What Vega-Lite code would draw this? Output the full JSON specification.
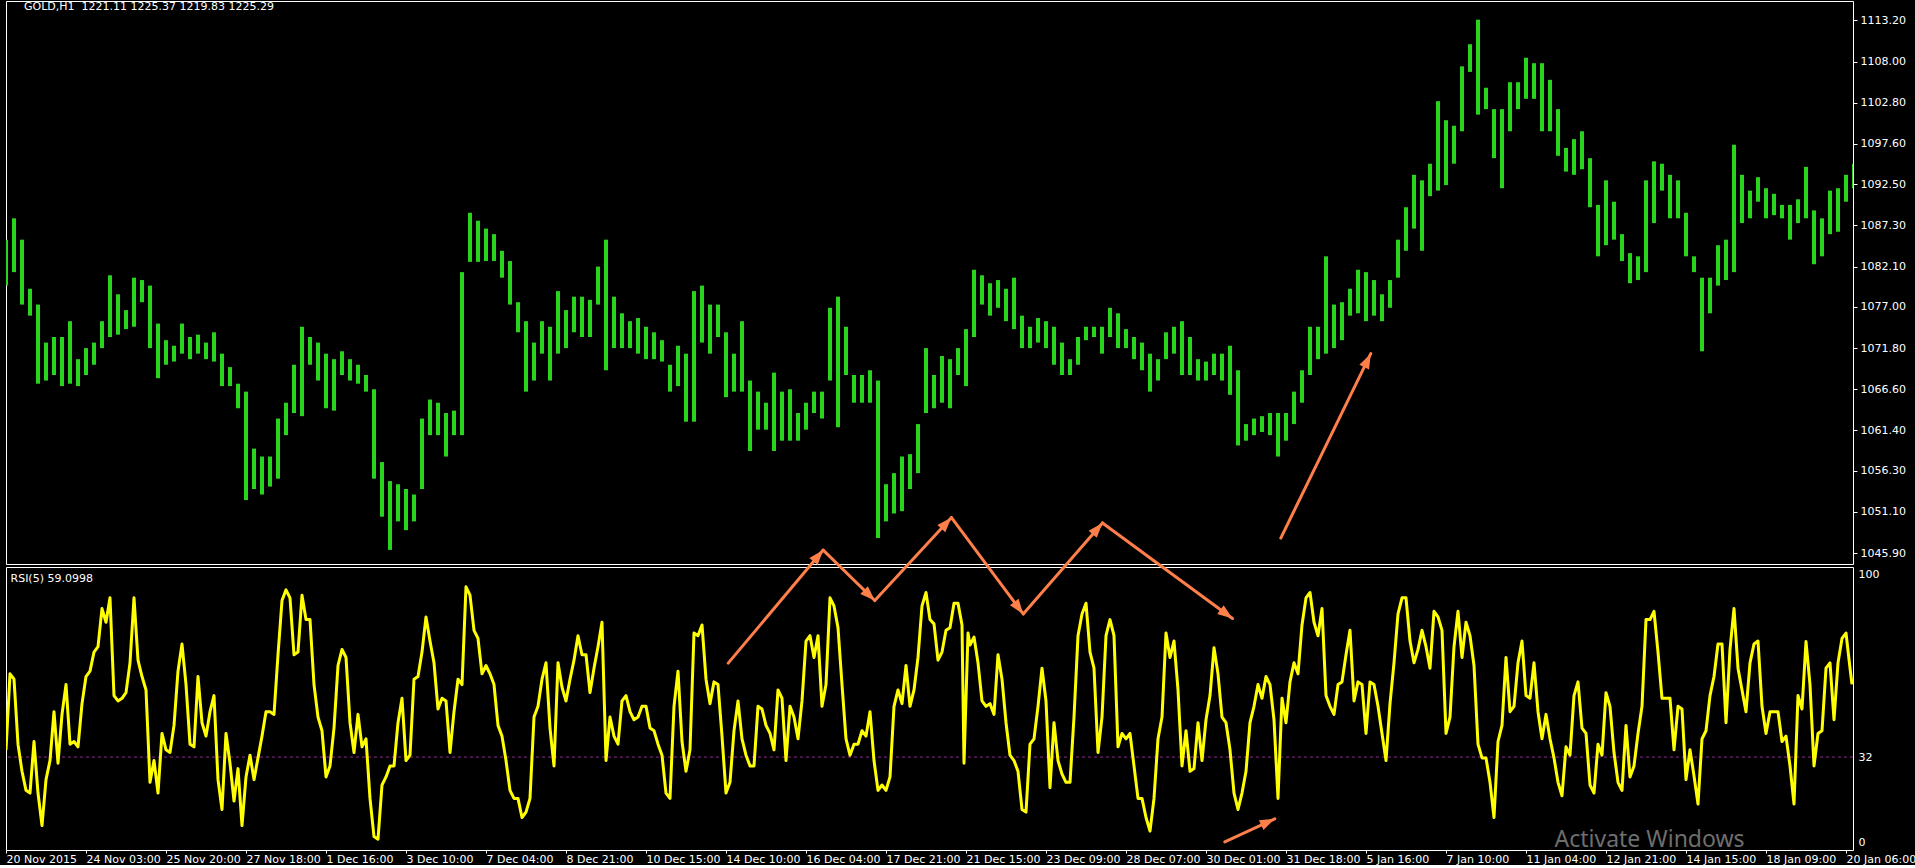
{
  "$schema": "https://vega.github.io/schema/vega-lite/v6.json",
  "background": "#000000",
  "padding": {"left": 5, "top": 0, "right": 0, "bottom": 0},
  "spacing": 3,
  "bounds": "flush",
  "config": {
    "font": "DejaVu Sans",
    "view": {"stroke": "#ffffff", "strokeWidth": 1},
    "axis": {"grid": false, "domain": false, "labelFont": "DejaVu Sans", "labelFontSize": 11, "labelColor": "#ffffff", "tickColor": "#ffffff", "labelOverlap": false, "labelFlush": false}
  },
  "datasets": {
    "price": [
      {"bar":0,"high":1085.5,"low":1079.7},{"bar":4,"high":1088.2,"low":1081.4},{"bar":8,"high":1085.5,"low":1077.3},{"bar":12,"high":1079.3,"low":1075.9},{"bar":16,"high":1077.3,"low":1067.3},{"bar":20,"high":1072.5,"low":1067.7},{"bar":24,"high":1073.2,"low":1068.4},{"bar":28,"high":1073.2,"low":1067.0},{"bar":32,"high":1075.2,"low":1067.3},{"bar":36,"high":1070.4,"low":1067.0},
      {"bar":40,"high":1071.8,"low":1068.4},{"bar":44,"high":1072.5,"low":1069.7},{"bar":48,"high":1075.2,"low":1071.8},{"bar":52,"high":1081.0,"low":1073.2},{"bar":56,"high":1078.6,"low":1073.5},{"bar":60,"high":1076.6,"low":1074.2},{"bar":64,"high":1080.7,"low":1074.5},{"bar":68,"high":1080.4,"low":1077.6},{"bar":72,"high":1079.7,"low":1071.8},{"bar":76,"high":1074.9,"low":1068.0},
      {"bar":80,"high":1072.8,"low":1069.7},{"bar":84,"high":1072.1,"low":1070.1},{"bar":88,"high":1074.9,"low":1071.1},{"bar":92,"high":1073.2,"low":1070.4},{"bar":96,"high":1073.5,"low":1071.1},{"bar":100,"high":1072.5,"low":1070.4},{"bar":104,"high":1073.8,"low":1070.1},{"bar":108,"high":1071.1,"low":1067.0},{"bar":112,"high":1069.4,"low":1067.0},{"bar":116,"high":1067.3,"low":1064.2},
      {"bar":120,"high":1066.3,"low":1052.6},{"bar":124,"high":1059.1,"low":1054.0},{"bar":128,"high":1058.1,"low":1053.3},{"bar":132,"high":1058.1,"low":1054.3},{"bar":136,"high":1062.9,"low":1055.3},{"bar":140,"high":1064.9,"low":1060.8},{"bar":144,"high":1069.7,"low":1063.6},{"bar":148,"high":1074.5,"low":1063.2},{"bar":152,"high":1073.2,"low":1069.7},{"bar":156,"high":1072.5,"low":1067.7},
      {"bar":160,"high":1071.1,"low":1064.2},{"bar":164,"high":1070.4,"low":1063.9},{"bar":168,"high":1071.4,"low":1068.4},{"bar":172,"high":1070.4,"low":1067.7},{"bar":176,"high":1069.7,"low":1067.3},{"bar":180,"high":1068.4,"low":1066.3},{"bar":184,"high":1066.6,"low":1055.3},{"bar":188,"high":1057.4,"low":1050.5},{"bar":192,"high":1055.0,"low":1046.3},{"bar":196,"high":1054.6,"low":1049.9},
      {"bar":200,"high":1054.0,"low":1048.8},{"bar":204,"high":1053.3,"low":1049.9},{"bar":208,"high":1062.9,"low":1054.0},{"bar":212,"high":1065.3,"low":1060.8},{"bar":216,"high":1064.9,"low":1060.8},{"bar":220,"high":1063.6,"low":1058.1},{"bar":224,"high":1063.9,"low":1060.8},{"bar":228,"high":1081.4,"low":1060.8},{"bar":232,"high":1088.9,"low":1082.7},{"bar":236,"high":1087.9,"low":1082.7},
      {"bar":240,"high":1086.9,"low":1082.8},{"bar":244,"high":1086.2,"low":1082.8},{"bar":248,"high":1084.1,"low":1080.7},{"bar":252,"high":1082.8,"low":1077.3},{"bar":256,"high":1077.6,"low":1073.8},{"bar":260,"high":1075.2,"low":1066.3},{"bar":264,"high":1072.5,"low":1067.7},{"bar":268,"high":1075.2,"low":1071.1},{"bar":272,"high":1074.5,"low":1067.7},{"bar":276,"high":1079.0,"low":1071.1},
      {"bar":280,"high":1076.6,"low":1071.8},{"bar":284,"high":1078.3,"low":1073.8},{"bar":288,"high":1078.3,"low":1073.2},{"bar":292,"high":1077.9,"low":1073.2},{"bar":296,"high":1082.1,"low":1077.3},{"bar":300,"high":1085.5,"low":1069.0},{"bar":304,"high":1078.3,"low":1071.8},{"bar":308,"high":1076.2,"low":1071.8},{"bar":312,"high":1075.2,"low":1071.8},{"bar":316,"high":1075.6,"low":1071.1},
      {"bar":320,"high":1074.5,"low":1070.4},{"bar":324,"high":1073.8,"low":1070.4},{"bar":328,"high":1072.8,"low":1070.1},{"bar":332,"high":1069.7,"low":1066.3},{"bar":336,"high":1072.1,"low":1067.0},{"bar":340,"high":1071.1,"low":1062.5},{"bar":344,"high":1079.0,"low":1062.5},{"bar":348,"high":1079.7,"low":1072.5},{"bar":352,"high":1077.3,"low":1071.1},{"bar":356,"high":1077.3,"low":1073.2},
      {"bar":360,"high":1073.8,"low":1065.6},{"bar":364,"high":1071.1,"low":1066.3},{"bar":368,"high":1075.2,"low":1066.3},{"bar":372,"high":1067.7,"low":1058.8},{"bar":376,"high":1066.3,"low":1061.5},{"bar":380,"high":1064.9,"low":1061.5},{"bar":384,"high":1068.7,"low":1058.8},{"bar":388,"high":1066.3,"low":1060.1},{"bar":392,"high":1066.6,"low":1060.1},{"bar":396,"high":1063.6,"low":1060.1},
      {"bar":400,"high":1064.9,"low":1061.5},{"bar":404,"high":1066.3,"low":1063.6},{"bar":408,"high":1066.3,"low":1062.9},{"bar":412,"high":1076.9,"low":1067.7},{"bar":416,"high":1078.3,"low":1061.8},{"bar":420,"high":1074.5,"low":1068.4},{"bar":424,"high":1068.4,"low":1064.9},{"bar":428,"high":1068.4,"low":1064.9},{"bar":432,"high":1069.0,"low":1064.9},{"bar":436,"high":1067.7,"low":1047.8},
      {"bar":440,"high":1054.6,"low":1049.9},{"bar":444,"high":1056.0,"low":1050.9},{"bar":448,"high":1058.1,"low":1051.2},{"bar":452,"high":1058.4,"low":1054.0},{"bar":456,"high":1062.2,"low":1056.0},{"bar":460,"high":1071.8,"low":1063.6},{"bar":464,"high":1068.4,"low":1064.2},{"bar":468,"high":1070.8,"low":1064.9},{"bar":472,"high":1070.4,"low":1064.2},{"bar":476,"high":1071.8,"low":1068.4},
      {"bar":480,"high":1074.2,"low":1067.0},{"bar":484,"high":1081.7,"low":1073.2},{"bar":488,"high":1081.0,"low":1077.3},{"bar":492,"high":1080.0,"low":1075.9},{"bar":496,"high":1080.4,"low":1076.9},{"bar":500,"high":1079.3,"low":1075.2},{"bar":504,"high":1080.7,"low":1074.2},{"bar":508,"high":1075.9,"low":1071.8},{"bar":512,"high":1074.5,"low":1071.8},{"bar":516,"high":1075.6,"low":1072.5},
      {"bar":520,"high":1075.2,"low":1071.8},{"bar":524,"high":1074.5,"low":1069.7},{"bar":528,"high":1072.5,"low":1068.4},{"bar":532,"high":1070.4,"low":1068.4},{"bar":536,"high":1073.2,"low":1069.7},{"bar":540,"high":1074.5,"low":1072.8},{"bar":544,"high":1074.5,"low":1073.2},{"bar":548,"high":1074.5,"low":1071.1},{"bar":552,"high":1076.9,"low":1073.2},{"bar":556,"high":1076.2,"low":1071.8},
      {"bar":560,"high":1074.2,"low":1071.8},{"bar":564,"high":1073.2,"low":1070.4},{"bar":568,"high":1072.5,"low":1069.0},{"bar":572,"high":1071.1,"low":1066.3},{"bar":576,"high":1070.4,"low":1067.7},{"bar":580,"high":1073.8,"low":1070.4},{"bar":584,"high":1074.5,"low":1071.1},{"bar":588,"high":1075.2,"low":1068.4},{"bar":592,"high":1073.2,"low":1068.4},{"bar":596,"high":1070.4,"low":1067.7},
      {"bar":600,"high":1070.1,"low":1067.7},{"bar":604,"high":1071.1,"low":1068.4},{"bar":608,"high":1071.1,"low":1067.7},{"bar":612,"high":1072.1,"low":1065.9},{"bar":616,"high":1069.0,"low":1059.5},{"bar":620,"high":1062.2,"low":1060.1},{"bar":624,"high":1062.9,"low":1060.8},{"bar":628,"high":1063.2,"low":1061.2},{"bar":632,"high":1063.6,"low":1060.8},{"bar":636,"high":1063.6,"low":1058.1},
      {"bar":640,"high":1063.6,"low":1060.1},{"bar":644,"high":1066.3,"low":1062.2},{"bar":648,"high":1069.0,"low":1064.9},{"bar":652,"high":1074.5,"low":1068.4},{"bar":656,"high":1074.5,"low":1070.4},{"bar":660,"high":1083.4,"low":1071.1},{"bar":664,"high":1077.3,"low":1071.8},{"bar":668,"high":1077.6,"low":1072.8},{"bar":672,"high":1079.3,"low":1075.9},{"bar":676,"high":1081.7,"low":1076.2},
      {"bar":680,"high":1081.4,"low":1075.2},{"bar":684,"high":1080.4,"low":1075.9},{"bar":688,"high":1078.6,"low":1075.2},{"bar":692,"high":1080.4,"low":1076.9},{"bar":696,"high":1085.5,"low":1080.7},{"bar":700,"high":1089.6,"low":1084.1},{"bar":704,"high":1093.7,"low":1086.9},{"bar":708,"high":1093.0,"low":1084.1},{"bar":712,"high":1095.1,"low":1091.0},{"bar":716,"high":1103.0,"low":1091.7},
      {"bar":720,"high":1100.6,"low":1092.4},{"bar":724,"high":1099.9,"low":1095.1},{"bar":728,"high":1107.4,"low":1099.2},{"bar":732,"high":1110.2,"low":1106.7},{"bar":736,"high":1113.3,"low":1101.3},{"bar":740,"high":1104.7,"low":1102.0},{"bar":744,"high":1102.0,"low":1095.8},{"bar":748,"high":1102.0,"low":1092.0},{"bar":752,"high":1105.4,"low":1099.2},{"bar":756,"high":1105.4,"low":1102.0},
      {"bar":760,"high":1108.5,"low":1103.3},{"bar":764,"high":1107.8,"low":1103.3},{"bar":768,"high":1107.8,"low":1099.2},{"bar":772,"high":1105.7,"low":1099.2},{"bar":776,"high":1102.0,"low":1096.1},{"bar":780,"high":1097.1,"low":1094.1},{"bar":784,"high":1098.2,"low":1093.7},{"bar":788,"high":1099.2,"low":1094.4},{"bar":792,"high":1095.8,"low":1089.6},{"bar":796,"high":1089.9,"low":1083.4},
      {"bar":800,"high":1093.0,"low":1084.8},{"bar":804,"high":1090.3,"low":1085.5},{"bar":808,"high":1086.2,"low":1082.8},{"bar":812,"high":1083.8,"low":1080.0},{"bar":816,"high":1083.4,"low":1080.4},{"bar":820,"high":1093.0,"low":1081.4},{"bar":824,"high":1095.4,"low":1087.6},{"bar":828,"high":1095.1,"low":1091.7},{"bar":832,"high":1093.7,"low":1088.2},{"bar":836,"high":1093.0,"low":1088.2},
      {"bar":840,"high":1088.9,"low":1083.4},{"bar":844,"high":1083.4,"low":1081.4},{"bar":848,"high":1080.7,"low":1071.4},{"bar":852,"high":1080.7,"low":1076.2},{"bar":856,"high":1084.8,"low":1079.7},{"bar":860,"high":1085.5,"low":1080.4},{"bar":864,"high":1097.5,"low":1081.4},{"bar":868,"high":1093.7,"low":1087.6},{"bar":872,"high":1091.7,"low":1088.2},{"bar":876,"high":1093.4,"low":1090.3},
      {"bar":880,"high":1092.0,"low":1088.2},{"bar":884,"high":1091.3,"low":1088.6},{"bar":888,"high":1089.9,"low":1088.2},{"bar":892,"high":1089.9,"low":1085.5},{"bar":896,"high":1090.6,"low":1087.6},{"bar":900,"high":1094.7,"low":1088.2},{"bar":904,"high":1089.2,"low":1082.4},{"bar":908,"high":1088.2,"low":1083.4},{"bar":912,"high":1091.7,"low":1086.2},{"bar":916,"high":1092.0,"low":1086.5},
      {"bar":920,"high":1093.7,"low":1090.3},{"bar":924,"high":1095.1,"low":1092.0}
    ],
    "rsi": [
      {"bar":0,"rsi":34.7},{"bar":2,"rsi":63.0},{"bar":4,"rsi":61.0},{"bar":6,"rsi":36.8},{"bar":8,"rsi":26.7},{"bar":10,"rsi":19.6},{"bar":12,"rsi":18.6},{"bar":14,"rsi":37.8},{"bar":16,"rsi":18.6},{"bar":18,"rsi":6.5},
      {"bar":20,"rsi":23.6},{"bar":22,"rsi":30.7},{"bar":24,"rsi":48.9},{"bar":26,"rsi":29.7},{"bar":28,"rsi":47.9},{"bar":30,"rsi":59.0},{"bar":32,"rsi":36.8},{"bar":34,"rsi":37.8},{"bar":36,"rsi":35.8},{"bar":38,"rsi":51.9},
      {"bar":40,"rsi":62.0},{"bar":42,"rsi":64.0},{"bar":44,"rsi":71.1},{"bar":46,"rsi":73.1},{"bar":48,"rsi":87.3},{"bar":50,"rsi":82.2},{"bar":52,"rsi":91.3},{"bar":54,"rsi":54.9},{"bar":56,"rsi":52.9},{"bar":58,"rsi":53.9},
      {"bar":60,"rsi":56.0},{"bar":62,"rsi":67.1},{"bar":64,"rsi":91.3},{"bar":66,"rsi":68.1},{"bar":68,"rsi":62.0},{"bar":70,"rsi":57.0},{"bar":72,"rsi":22.6},{"bar":74,"rsi":30.7},{"bar":76,"rsi":18.6},{"bar":78,"rsi":40.8},
      {"bar":80,"rsi":34.7},{"bar":82,"rsi":33.7},{"bar":84,"rsi":43.8},{"bar":86,"rsi":64.0},{"bar":88,"rsi":74.1},{"bar":90,"rsi":59.0},{"bar":92,"rsi":36.8},{"bar":94,"rsi":35.8},{"bar":96,"rsi":62.0},{"bar":98,"rsi":44.8},
      {"bar":100,"rsi":39.8},{"bar":102,"rsi":48.9},{"bar":104,"rsi":54.9},{"bar":106,"rsi":23.6},{"bar":108,"rsi":12.5},{"bar":110,"rsi":40.8},{"bar":112,"rsi":29.7},{"bar":114,"rsi":15.6},{"bar":116,"rsi":27.7},{"bar":118,"rsi":6.5},
      {"bar":120,"rsi":24.6},{"bar":122,"rsi":32.7},{"bar":124,"rsi":23.6},{"bar":126,"rsi":31.7},{"bar":128,"rsi":39.8},{"bar":130,"rsi":48.9},{"bar":132,"rsi":48.9},{"bar":134,"rsi":47.9},{"bar":136,"rsi":70.1},{"bar":138,"rsi":90.3},
      {"bar":140,"rsi":94.3},{"bar":142,"rsi":91.3},{"bar":144,"rsi":70.1},{"bar":146,"rsi":71.1},{"bar":148,"rsi":92.3},{"bar":150,"rsi":83.2},{"bar":152,"rsi":83.2},{"bar":154,"rsi":59.0},{"bar":156,"rsi":46.9},{"bar":158,"rsi":41.8},
      {"bar":160,"rsi":24.6},{"bar":162,"rsi":28.7},{"bar":164,"rsi":42.8},{"bar":166,"rsi":66.1},{"bar":168,"rsi":72.1},{"bar":170,"rsi":69.1},{"bar":172,"rsi":44.8},{"bar":174,"rsi":33.7},{"bar":176,"rsi":47.9},{"bar":178,"rsi":35.8},
      {"bar":180,"rsi":38.8},{"bar":182,"rsi":16.6},{"bar":184,"rsi":2.4},{"bar":186,"rsi":1.4},{"bar":188,"rsi":21.6},{"bar":190,"rsi":24.6},{"bar":192,"rsi":28.7},{"bar":194,"rsi":28.7},{"bar":196,"rsi":44.8},{"bar":198,"rsi":53.9},
      {"bar":200,"rsi":30.7},{"bar":202,"rsi":32.7},{"bar":204,"rsi":61.0},{"bar":206,"rsi":62.0},{"bar":208,"rsi":71.1},{"bar":210,"rsi":84.2},{"bar":212,"rsi":75.2},{"bar":214,"rsi":67.1},{"bar":216,"rsi":49.9},{"bar":218,"rsi":53.9},
      {"bar":220,"rsi":52.9},{"bar":222,"rsi":33.7},{"bar":224,"rsi":48.9},{"bar":226,"rsi":61.0},{"bar":228,"rsi":59.0},{"bar":230,"rsi":95.4},{"bar":232,"rsi":92.3},{"bar":234,"rsi":79.2},{"bar":236,"rsi":76.2},{"bar":238,"rsi":63.0},
      {"bar":240,"rsi":66.1},{"bar":242,"rsi":63.0},{"bar":244,"rsi":59.0},{"bar":246,"rsi":43.8},{"bar":248,"rsi":39.8},{"bar":250,"rsi":30.7},{"bar":252,"rsi":19.6},{"bar":254,"rsi":16.6},{"bar":256,"rsi":16.6},{"bar":258,"rsi":9.5},
      {"bar":260,"rsi":11.5},{"bar":262,"rsi":16.6},{"bar":264,"rsi":46.9},{"bar":266,"rsi":50.9},{"bar":268,"rsi":61.0},{"bar":270,"rsi":67.1},{"bar":272,"rsi":42.8},{"bar":274,"rsi":28.7},{"bar":276,"rsi":67.1},{"bar":278,"rsi":58.0},
      {"bar":280,"rsi":52.9},{"bar":282,"rsi":61.0},{"bar":284,"rsi":68.1},{"bar":286,"rsi":77.2},{"bar":288,"rsi":70.1},{"bar":290,"rsi":70.1},{"bar":292,"rsi":56.0},{"bar":294,"rsi":65.1},{"bar":296,"rsi":73.1},{"bar":298,"rsi":82.2},
      {"bar":300,"rsi":30.7},{"bar":302,"rsi":46.9},{"bar":304,"rsi":39.8},{"bar":306,"rsi":36.8},{"bar":308,"rsi":52.9},{"bar":310,"rsi":54.9},{"bar":312,"rsi":48.9},{"bar":314,"rsi":45.9},{"bar":316,"rsi":46.9},{"bar":318,"rsi":50.9},
      {"bar":320,"rsi":50.9},{"bar":322,"rsi":42.8},{"bar":324,"rsi":41.8},{"bar":326,"rsi":36.8},{"bar":328,"rsi":32.7},{"bar":330,"rsi":18.6},{"bar":332,"rsi":16.6},{"bar":334,"rsi":50.9},{"bar":336,"rsi":64.0},{"bar":338,"rsi":37.8},
      {"bar":340,"rsi":26.7},{"bar":342,"rsi":34.7},{"bar":344,"rsi":78.2},{"bar":346,"rsi":77.2},{"bar":348,"rsi":81.2},{"bar":350,"rsi":61.0},{"bar":352,"rsi":51.9},{"bar":354,"rsi":60.0},{"bar":356,"rsi":59.0},{"bar":358,"rsi":39.8},
      {"bar":360,"rsi":18.6},{"bar":362,"rsi":22.6},{"bar":364,"rsi":41.8},{"bar":366,"rsi":52.9},{"bar":368,"rsi":38.8},{"bar":370,"rsi":32.7},{"bar":372,"rsi":28.7},{"bar":374,"rsi":28.7},{"bar":376,"rsi":50.9},{"bar":378,"rsi":49.9},
      {"bar":380,"rsi":43.8},{"bar":382,"rsi":40.8},{"bar":384,"rsi":34.7},{"bar":386,"rsi":57.0},{"bar":388,"rsi":53.9},{"bar":390,"rsi":30.7},{"bar":392,"rsi":50.9},{"bar":394,"rsi":46.9},{"bar":396,"rsi":38.8},{"bar":398,"rsi":52.9},
      {"bar":400,"rsi":75.2},{"bar":402,"rsi":77.2},{"bar":404,"rsi":69.1},{"bar":406,"rsi":77.2},{"bar":408,"rsi":50.9},{"bar":410,"rsi":59.0},{"bar":412,"rsi":91.3},{"bar":414,"rsi":88.3},{"bar":416,"rsi":80.2},{"bar":418,"rsi":59.0},
      {"bar":420,"rsi":38.8},{"bar":422,"rsi":32.7},{"bar":424,"rsi":36.8},{"bar":426,"rsi":36.8},{"bar":428,"rsi":41.8},{"bar":430,"rsi":39.8},{"bar":432,"rsi":48.9},{"bar":434,"rsi":30.7},{"bar":436,"rsi":19.6},{"bar":438,"rsi":21.6},
      {"bar":440,"rsi":19.6},{"bar":442,"rsi":24.6},{"bar":444,"rsi":50.9},{"bar":446,"rsi":57.0},{"bar":448,"rsi":51.9},{"bar":450,"rsi":66.1},{"bar":452,"rsi":50.9},{"bar":454,"rsi":57.0},{"bar":456,"rsi":69.1},{"bar":458,"rsi":88.3},
      {"bar":460,"rsi":93.3},{"bar":462,"rsi":83.2},{"bar":464,"rsi":81.6},{"bar":466,"rsi":68.1},{"bar":468,"rsi":71.1},{"bar":470,"rsi":79.2},{"bar":472,"rsi":80.2},{"bar":474,"rsi":89.3},{"bar":476,"rsi":89.3},{"bar":478,"rsi":81.2},
      {"bar":479,"rsi":29.7},{"bar":481,"rsi":78.2},{"bar":482,"rsi":73.7},{"bar":484,"rsi":76.7},{"bar":486,"rsi":67.1},{"bar":488,"rsi":52.9},{"bar":490,"rsi":50.9},{"bar":492,"rsi":51.9},{"bar":494,"rsi":47.9},{"bar":496,"rsi":70.1},
      {"bar":498,"rsi":61.0},{"bar":500,"rsi":44.8},{"bar":502,"rsi":32.7},{"bar":504,"rsi":30.7},{"bar":506,"rsi":26.7},{"bar":508,"rsi":12.5},{"bar":510,"rsi":11.5},{"bar":512,"rsi":36.8},{"bar":514,"rsi":38.8},{"bar":516,"rsi":50.9},
      {"bar":518,"rsi":65.1},{"bar":520,"rsi":52.9},{"bar":522,"rsi":20.6},{"bar":524,"rsi":44.8},{"bar":526,"rsi":30.7},{"bar":528,"rsi":25.7},{"bar":530,"rsi":22.6},{"bar":532,"rsi":22.6},{"bar":534,"rsi":46.9},{"bar":536,"rsi":77.2},
      {"bar":538,"rsi":85.3},{"bar":540,"rsi":89.3},{"bar":542,"rsi":71.1},{"bar":544,"rsi":65.1},{"bar":546,"rsi":33.7},{"bar":548,"rsi":46.9},{"bar":550,"rsi":77.2},{"bar":552,"rsi":83.2},{"bar":554,"rsi":77.2},{"bar":556,"rsi":35.8},
      {"bar":558,"rsi":40.8},{"bar":560,"rsi":38.8},{"bar":562,"rsi":40.8},{"bar":564,"rsi":28.7},{"bar":566,"rsi":16.6},{"bar":568,"rsi":16.6},{"bar":570,"rsi":9.5},{"bar":572,"rsi":4.4},{"bar":574,"rsi":16.6},{"bar":576,"rsi":38.8},
      {"bar":578,"rsi":46.9},{"bar":580,"rsi":78.2},{"bar":582,"rsi":69.1},{"bar":584,"rsi":75.2},{"bar":586,"rsi":57.0},{"bar":588,"rsi":28.7},{"bar":590,"rsi":41.8},{"bar":592,"rsi":26.7},{"bar":594,"rsi":27.7},{"bar":596,"rsi":44.8},
      {"bar":598,"rsi":30.7},{"bar":600,"rsi":45.9},{"bar":602,"rsi":54.9},{"bar":604,"rsi":72.7},{"bar":606,"rsi":63.0},{"bar":608,"rsi":46.9},{"bar":610,"rsi":44.8},{"bar":612,"rsi":34.7},{"bar":614,"rsi":18.6},{"bar":616,"rsi":12.5},
      {"bar":618,"rsi":18.6},{"bar":620,"rsi":26.7},{"bar":622,"rsi":44.8},{"bar":624,"rsi":50.9},{"bar":626,"rsi":59.0},{"bar":628,"rsi":53.9},{"bar":630,"rsi":62.0},{"bar":632,"rsi":59.0},{"bar":634,"rsi":45.9},{"bar":636,"rsi":16.6},
      {"bar":638,"rsi":53.9},{"bar":640,"rsi":44.8},{"bar":642,"rsi":60.0},{"bar":644,"rsi":67.1},{"bar":646,"rsi":63.0},{"bar":648,"rsi":81.2},{"bar":650,"rsi":91.3},{"bar":652,"rsi":93.3},{"bar":654,"rsi":82.2},{"bar":656,"rsi":77.2},
      {"bar":658,"rsi":87.3},{"bar":660,"rsi":54.9},{"bar":662,"rsi":50.9},{"bar":664,"rsi":47.9},{"bar":666,"rsi":59.0},{"bar":668,"rsi":60.0},{"bar":670,"rsi":70.1},{"bar":672,"rsi":79.2},{"bar":674,"rsi":52.9},{"bar":676,"rsi":60.0},
      {"bar":678,"rsi":59.0},{"bar":680,"rsi":40.8},{"bar":682,"rsi":60.0},{"bar":684,"rsi":59.0},{"bar":686,"rsi":50.9},{"bar":688,"rsi":40.8},{"bar":690,"rsi":30.7},{"bar":692,"rsi":51.9},{"bar":694,"rsi":67.1},{"bar":696,"rsi":85.3},
      {"bar":698,"rsi":91.3},{"bar":700,"rsi":91.3},{"bar":702,"rsi":75.2},{"bar":704,"rsi":67.1},{"bar":706,"rsi":72.1},{"bar":708,"rsi":79.2},{"bar":710,"rsi":73.1},{"bar":712,"rsi":65.1},{"bar":714,"rsi":86.3},{"bar":716,"rsi":84.2},
      {"bar":718,"rsi":79.2},{"bar":720,"rsi":40.8},{"bar":722,"rsi":46.9},{"bar":724,"rsi":73.1},{"bar":726,"rsi":86.3},{"bar":728,"rsi":69.1},{"bar":730,"rsi":82.2},{"bar":732,"rsi":77.2},{"bar":734,"rsi":66.1},{"bar":736,"rsi":36.8},
      {"bar":738,"rsi":31.7},{"bar":740,"rsi":31.7},{"bar":742,"rsi":22.6},{"bar":744,"rsi":9.5},{"bar":746,"rsi":37.8},{"bar":748,"rsi":43.8},{"bar":750,"rsi":69.1},{"bar":752,"rsi":48.9},{"bar":754,"rsi":50.9},{"bar":756,"rsi":67.1},
      {"bar":758,"rsi":75.2},{"bar":760,"rsi":54.9},{"bar":762,"rsi":53.9},{"bar":764,"rsi":67.1},{"bar":766,"rsi":48.9},{"bar":768,"rsi":38.8},{"bar":770,"rsi":47.9},{"bar":772,"rsi":38.8},{"bar":774,"rsi":31.7},{"bar":776,"rsi":22.6},
      {"bar":778,"rsi":17.6},{"bar":780,"rsi":35.8},{"bar":782,"rsi":32.7},{"bar":784,"rsi":54.9},{"bar":786,"rsi":60.0},{"bar":788,"rsi":42.8},{"bar":790,"rsi":40.8},{"bar":792,"rsi":21.6},{"bar":794,"rsi":18.6},{"bar":796,"rsi":36.8},
      {"bar":798,"rsi":32.7},{"bar":800,"rsi":56.0},{"bar":802,"rsi":50.9},{"bar":804,"rsi":33.7},{"bar":806,"rsi":22.6},{"bar":808,"rsi":19.6},{"bar":810,"rsi":43.8},{"bar":812,"rsi":24.6},{"bar":814,"rsi":28.7},{"bar":816,"rsi":40.8},
      {"bar":818,"rsi":50.9},{"bar":820,"rsi":83.2},{"bar":822,"rsi":83.2},{"bar":824,"rsi":86.3},{"bar":826,"rsi":71.1},{"bar":828,"rsi":53.9},{"bar":830,"rsi":53.9},{"bar":832,"rsi":53.9},{"bar":834,"rsi":34.7},{"bar":836,"rsi":50.9},
      {"bar":838,"rsi":49.9},{"bar":840,"rsi":23.6},{"bar":842,"rsi":34.7},{"bar":844,"rsi":25.0},{"bar":846,"rsi":14.5},{"bar":848,"rsi":38.8},{"bar":850,"rsi":41.8},{"bar":852,"rsi":54.9},{"bar":854,"rsi":62.0},{"bar":856,"rsi":74.1},
      {"bar":858,"rsi":74.1},{"bar":860,"rsi":44.8},{"bar":862,"rsi":72.1},{"bar":864,"rsi":87.3},{"bar":866,"rsi":65.1},{"bar":868,"rsi":57.0},{"bar":870,"rsi":48.9},{"bar":872,"rsi":67.1},{"bar":874,"rsi":74.1},{"bar":876,"rsi":75.2},
      {"bar":878,"rsi":50.9},{"bar":880,"rsi":40.8},{"bar":882,"rsi":48.9},{"bar":884,"rsi":48.9},{"bar":886,"rsi":48.9},{"bar":888,"rsi":37.8},{"bar":890,"rsi":39.8},{"bar":892,"rsi":28.7},{"bar":894,"rsi":14.5},{"bar":896,"rsi":54.9},
      {"bar":898,"rsi":49.9},{"bar":900,"rsi":75.0},{"bar":902,"rsi":59.0},{"bar":904,"rsi":28.7},{"bar":906,"rsi":40.8},{"bar":908,"rsi":41.8},{"bar":910,"rsi":65.1},{"bar":912,"rsi":67.1},{"bar":914,"rsi":45.9},{"bar":916,"rsi":67.1},
      {"bar":918,"rsi":76.2},{"bar":920,"rsi":78.2},{"bar":922,"rsi":65.1},{"bar":923,"rsi":59.1}
    ],
    "arrowsRsi": [
      {"id":"a1","bar":361.1,"rsi":67.0,"bar2":408.6,"rsi2":109.1},
      {"id":"a2","bar":408.6,"rsi":109.1,"bar2":434.4,"rsi2":90.3},
      {"id":"a3","bar":434.4,"rsi":90.3,"bar2":472.75,"rsi2":121.2},
      {"id":"a4","bar":472.75,"rsi":121.2,"bar2":508.6,"rsi2":85.3},
      {"id":"a5","bar":508.6,"rsi":85.3,"bar2":548.25,"rsi2":119.2},
      {"id":"a6","bar":548.25,"rsi":119.2,"bar2":613.25,"rsi2":83.6},
      {"id":"b","bar":609.4,"rsi":0.4,"bar2":634.4,"rsi2":9.0}
    ],
    "arrowsPrice": [
      {"id":"c","bar":637.4,"price":1047.8,"bar2":682.4,"price2":1071.1}
    ],
    "level": [{"level": 32}]
  },
  "vconcat": [
    {
      "width": 1847,
      "height": 563,
      "title": {"text": "GOLD,H1\u00a0\u00a01221.11 1225.37 1219.83 1225.29", "anchor": "start", "frame": "group", "offset": -11, "dx": 18, "color": "#ffffff", "font": "DejaVu Sans", "fontSize": 11, "fontWeight": "normal"},
      "layer": [
        {
          "data": {"name": "price"},
          "mark": {"type": "rule", "color": "#28d41e", "strokeWidth": 4, "clip": true},
          "encoding": {
            "x": {"field": "bar", "type": "quantitative", "scale": {"domain": [0, 923.5], "nice": false, "zero": false}, "axis": null},
            "y": {"field": "high", "type": "quantitative", "scale": {"domain": [1044.52, 1115.66], "nice": false, "zero": false},
                  "axis": {"orient": "right", "title": null, "values": [1045.9, 1051.1, 1056.3, 1061.4, 1066.6, 1071.8, 1077.0, 1082.1, 1087.3, 1092.5, 1097.6, 1102.8, 1108.0, 1113.2], "format": ".2f", "tickSize": 4, "labelPadding": 3, "labelBaseline": "middle"}},
            "y2": {"field": "low"}
          }
        },
        {
          "data": {"name": "arrowsPrice"},
          "mark": {"type": "rule", "color": "#ff7f4a", "strokeWidth": 3, "strokeCap": "round"},
          "encoding": {
            "x": {"field": "bar", "type": "quantitative", "scale": {"domain": [0, 923.5], "nice": false, "zero": false}, "axis": null},
            "y": {"field": "price", "type": "quantitative", "scale": {"domain": [1044.52, 1115.66], "nice": false, "zero": false}},
            "x2": {"field": "bar2"},
            "y2": {"field": "price2"}
          }
        },
        {
          "data": {"name": "arrowsPrice"},
          "mark": {"type": "point", "shape": "M0,0L-1,-0.36L-1,0.36Z", "filled": true, "color": "#ff7f4a", "opacity": 1, "size": 900},
          "encoding": {
            "x": {"field": "bar2", "type": "quantitative", "scale": {"domain": [0, 923.5], "nice": false, "zero": false}, "axis": null},
            "y": {"field": "price2", "type": "quantitative", "scale": {"domain": [1044.52, 1115.66], "nice": false, "zero": false}},
            "angle": {"value": 296}
          }
        }
      ]
    },
    {
      "width": 1847,
      "height": 283,
      "layer": [
        {
          "data": {"name": "level"},
          "mark": {"type": "rule", "color": "#8e2a8e", "strokeWidth": 1, "strokeDash": [3, 3]},
          "encoding": {
            "y": {"field": "level", "type": "quantitative", "scale": {"domain": [-2.61, 102.79], "nice": false, "zero": false}}
          }
        },
        {
          "data": {"name": "rsi"},
          "mark": {"type": "line", "color": "#ffff00", "strokeWidth": 3, "strokeJoin": "round", "clip": true},
          "encoding": {
            "x": {"field": "bar", "type": "quantitative", "scale": {"domain": [0, 923.5], "nice": false, "zero": false},
                  "axis": {"orient": "bottom", "values": [0, 40, 80, 120, 160, 200, 240, 280, 320, 360, 400, 440, 480, 520, 560, 600, 640, 680, 720, 760, 800, 840, 880, 920],
                           "labelExpr": "['20 Nov 2015','24 Nov 03:00','25 Nov 20:00','27 Nov 18:00','1 Dec 16:00','3 Dec 10:00','7 Dec 04:00','8 Dec 21:00','10 Dec 15:00','14 Dec 10:00','16 Dec 04:00','17 Dec 21:00','21 Dec 15:00','23 Dec 09:00','28 Dec 07:00','30 Dec 01:00','31 Dec 18:00','5 Jan 16:00','7 Jan 10:00','11 Jan 04:00','12 Jan 21:00','14 Jan 15:00','18 Jan 09:00','20 Jan 06:00'][round(datum.value/40)]",
                           "labelAlign": "left", "labelBaseline": "top", "labelPadding": 0, "labelOffset": 0, "tickSize": 3,
                           "title": "Activate Windows", "titleX": 1548, "titleY": -4, "titleAlign": "left", "titleBaseline": "alphabetic", "titleAngle": 0, "titleFont": "Noto Sans", "titleFontSize": 23, "titleFontWeight": "normal", "titleColor": "#6e6e6e"}},
            "y": {"field": "rsi", "type": "quantitative", "scale": {"domain": [-2.61, 102.79], "nice": false, "zero": false},
                  "axis": {"orient": "right", "values": [0, 32, 100], "format": "d", "tickSize": 0, "labelPadding": 5, "labelBaseline": "middle",
                           "title": "RSI(5) 59.0998", "titleX": -1843, "titleY": 14, "titleAngle": 0, "titleAlign": "left", "titleBaseline": "alphabetic", "titleColor": "#ffffff", "titleFont": "DejaVu Sans", "titleFontSize": 11, "titleFontWeight": "normal"}}
          }
        },
        {
          "data": {"name": "arrowsRsi"},
          "mark": {"type": "rule", "color": "#ff7f4a", "strokeWidth": 3, "strokeCap": "round"},
          "encoding": {
            "x": {"field": "bar", "type": "quantitative", "scale": {"domain": [0, 923.5], "nice": false, "zero": false}},
            "y": {"field": "rsi", "type": "quantitative", "scale": {"domain": [-2.61, 102.79], "nice": false, "zero": false}},
            "x2": {"field": "bar2"},
            "y2": {"field": "rsi2"}
          }
        },
        {
          "data": {"name": "arrowsRsi"},
          "mark": {"type": "point", "shape": "M0,0L-1,-0.36L-1,0.36Z", "filled": true, "color": "#ff7f4a", "opacity": 1, "size": 900},
          "encoding": {
            "x": {"field": "bar2", "type": "quantitative", "scale": {"domain": [0, 923.5], "nice": false, "zero": false}},
            "y": {"field": "rsi2", "type": "quantitative", "scale": {"domain": [-2.61, 102.79], "nice": false, "zero": false}},
            "angle": {"condition": [
              {"test": "datum.id === 'a1'", "value": 310.1},
              {"test": "datum.id === 'a2'", "value": 44.4},
              {"test": "datum.id === 'a3'", "value": 312.7},
              {"test": "datum.id === 'a4'", "value": 53.4},
              {"test": "datum.id === 'a5'", "value": 311},
              {"test": "datum.id === 'a6'", "value": 36.6}
            ], "value": 335}
          }
        }
      ]
    }
  ]
}
